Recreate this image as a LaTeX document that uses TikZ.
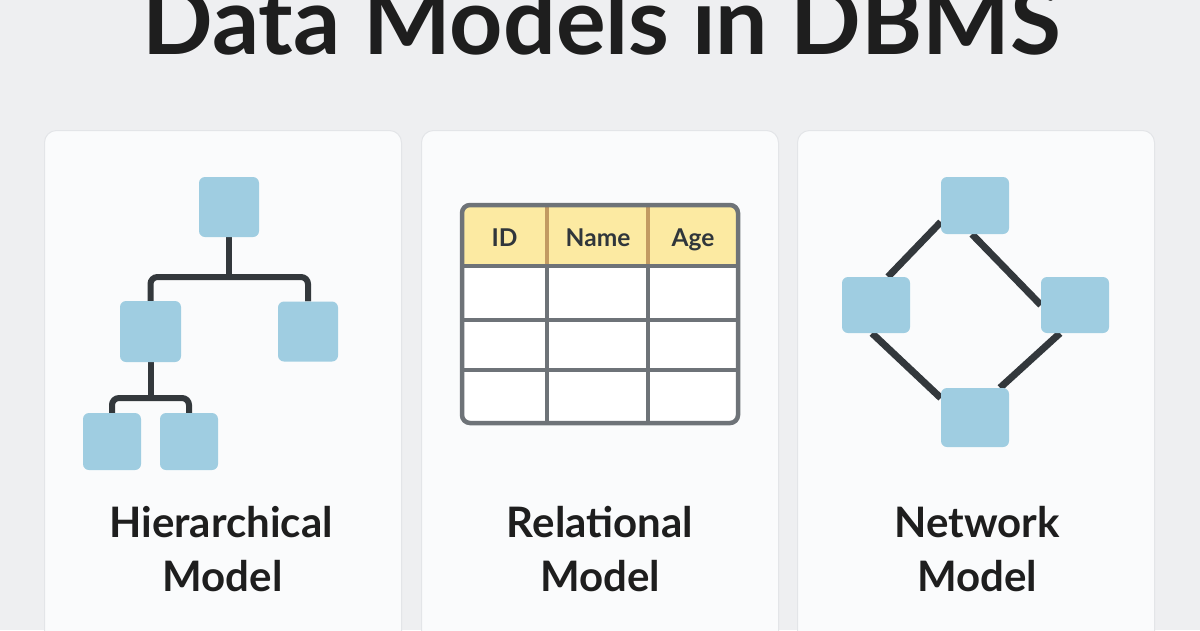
\documentclass[tikz,border=0pt]{standalone}
\usepackage{fontspec}
\setmainfont{Lato}
\usetikzlibrary{calc}
\definecolor{bgc}{HTML}{EEEFF1}
\definecolor{card}{HTML}{FAFBFC}
\definecolor{cardedge}{HTML}{E3E5E8}
\definecolor{boxc}{HTML}{9FCDE1}
\definecolor{linec}{HTML}{33383C}
\definecolor{gridc}{HTML}{6E7378}
\definecolor{hdr}{HTML}{FCEAA2}
\definecolor{hdrline}{HTML}{C29A62}
\definecolor{txt}{HTML}{1E1E1E}
\definecolor{htxt}{HTML}{30363B}
\pgfdeclarelayer{bg}\pgfdeclarelayer{mid}\pgfsetlayers{bg,mid,main}
\begin{document}
\begin{tikzpicture}[x=1pt,y=-1pt,
  cardbox/.style={fill=card, draw=cardedge, line width=1pt, rounded corners=12pt, inner sep=0pt, minimum width=357pt, minimum height=530pt, anchor=north west},
  blk/.style={fill=boxc, rounded corners=6pt, inner sep=0pt, minimum width=60pt, minimum height=60pt},
  conn/.style={draw=linec, line width=6pt, rounded corners=7pt},
  netconn/.style={draw=linec, line width=7pt},
  lbl/.style={font=\fontsize{42}{42}\selectfont\bfseries, text=txt, anchor=base, inner sep=0pt},
  ttl/.style={font=\fontsize{93}{93}\selectfont\bfseries, text=txt, anchor=base, inner sep=0pt},
  hdrtxt/.style={font=\fontsize{24.5}{24.5}\selectfont\bfseries, text=htxt, inner sep=0pt, anchor=base},
  gridline/.style={draw=gridc, line width=4pt},
  hdrdiv/.style={draw=hdrline, line width=4pt}
]
\useasboundingbox (0,0) rectangle (1200,630);
\begin{pgfonlayer}{bg}
  \fill[bgc] (0,0) rectangle (1200,630);
  \node[cardbox] (card1) at (44,130) {};
  \node[cardbox] (card2) at (421,130) {};
  \node[cardbox] (card3) at (797,130) {};
\end{pgfonlayer}

% title
\node[ttl] (title) at (602,54) {Data Models in DBMS};

% ---------- hierarchical ----------
\node[blk] (root) at (229,207) {};
\node[blk, minimum width=61pt, minimum height=61pt] (c1) at (150.5,331.5) {};
\node[blk] (c2) at (308,331.5) {};
\node[blk, minimum width=58pt, minimum height=57pt] (g1) at (112,441.5) {};
\node[blk, minimum width=58pt, minimum height=57pt] (g2) at (189,441.5) {};
\begin{pgfonlayer}{mid}
  \draw[conn] (root.south) -- (root.south |- 0,277);
  \draw[conn] (c1.north) -- (c1.north |- 0,277) -- (c2.north |- 0,277) -- (c2.north);
  \draw[conn] (c1.south) -- (c1.south |- 0,398);
  \draw[conn] (g1.north) -- (g1.north |- 0,398) -- (g2.north |- 0,398) -- (g2.north);
\end{pgfonlayer}
\node[lbl] (lh1) at (221,537) {Hierarchical};
\node[lbl] (lh2) at (222.5,591) {Model};

% ---------- relational ----------
\fill[white, rounded corners=8pt] (462,205) rectangle (738,423);
\begin{scope}
  \clip[rounded corners=8pt] (462,205) rectangle (738,423);
  \fill[hdr] (462,205) rectangle (738,266);
\end{scope}
\draw[gridline] (462,266) -- (738,266);
\draw[gridline] (462,320) -- (738,320);
\draw[gridline] (462,370) -- (738,370);
\draw[hdrdiv] (547,207) -- (547,264);
\draw[hdrdiv] (648,207) -- (648,264);
\draw[gridline] (547,266) -- (547,423);
\draw[gridline] (648,266) -- (648,423);
\node[draw=gridc, line width=4.5pt, rounded corners=8pt, minimum width=276pt, minimum height=218pt, inner sep=0pt] (tbl) at (600,314) {};
\node[hdrtxt] (hid) at (504.5,246) {ID};
\node[hdrtxt] (hname) at (598,246) {Name};
\node[hdrtxt] (hage) at (693,246) {Age};
\node[lbl] (lr1) at (600,537) {Relational};
\node[lbl] (lr2) at (600,591) {Model};

% ---------- network ----------
\node[blk, minimum width=68pt, minimum height=57pt] (ntop) at (975,205.5) {};
\node[blk, minimum width=68pt, minimum height=56pt] (nleft) at (876,305) {};
\node[blk, minimum width=68pt, minimum height=56pt] (nright) at (1075,305) {};
\node[blk, minimum width=68pt, minimum height=59pt] (nbot) at (975,417.5) {};
\begin{pgfonlayer}{mid}
  \draw[netconn] ([xshift=12pt]nleft.north) -- ([yshift=-16.5pt]ntop.west);
  \draw[netconn] ([xshift=-3pt]ntop.south) -- (nright.west);
  \draw[netconn] ([xshift=-4pt]nleft.south) -- ([yshift=19.5pt]nbot.west);
  \draw[netconn] ([xshift=25pt]nbot.north) -- ([xshift=-15pt]nright.south);
\end{pgfonlayer}
\node[lbl] (ln1) at (977,537) {Network};
\node[lbl] (ln2) at (977,591) {Model};
\end{tikzpicture}
\end{document}
